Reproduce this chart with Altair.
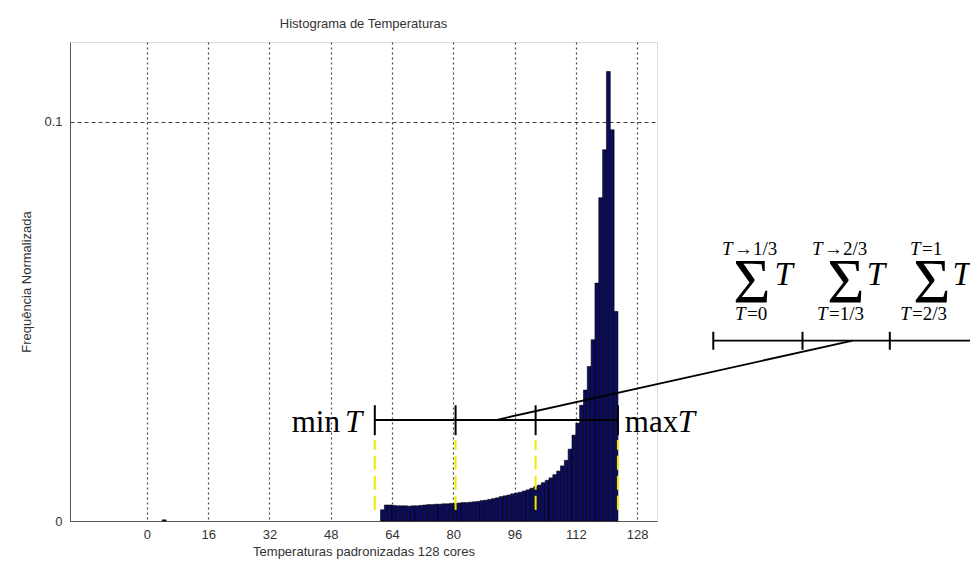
import altair as alt
import pandas as pd

# ---- histogram data (bin start, normalized frequency) ----
bins = [4] + list(range(61, 123))
freqs = [0.0003,
         0.0028, 0.0040, 0.0040, 0.0039, 0.0038, 0.0038, 0.0038, 0.0037, 0.0038, 0.0038,
         0.0039, 0.0040, 0.0041, 0.0041, 0.0042, 0.0042, 0.0043, 0.0043, 0.0044, 0.0044,
         0.0045, 0.0046, 0.0046, 0.0047, 0.0048, 0.0049, 0.0051, 0.0052, 0.0054, 0.0056,
         0.0058, 0.0061, 0.0063, 0.0065, 0.0068, 0.0070, 0.0072, 0.0075, 0.0078, 0.0082,
         0.0086, 0.0090, 0.0096, 0.0102, 0.0108, 0.0116, 0.0125, 0.0138, 0.0152, 0.0180,
         0.0215, 0.0245, 0.0290, 0.0328, 0.0387, 0.0454, 0.0596, 0.0810, 0.0930, 0.1126,
         0.0980, 0.0525]

x_ticks = [0, 16, 32, 48, 64, 80, 96, 112, 128]
y_ticks = [0, 0.1]

# ---- annotation geometry (data units) ----
seg_x = [59.5, 80.6, 101.5, 123.0]      # min T .. max T split points
seg_y = 0.0253
seg_tick_y = [0.0215, 0.0290]
yellow_y = [0.0028, 0.0203]
slant_x = [91.1, 184.3]
slant_y = [0.0253, 0.0452]
scale_x = [147.9, 171.2, 194.0]
scale_end = 215.0
scale_y = 0.0452
scale_tick_y = [0.0429, 0.0474]

sum_sigma_x = [158.0, 182.5, 205.0]
sum_T_x = [163.9, 188.0, 210.4]
sup_T_x = [150.2, 173.7, 199.3]
sup_rest_x = [153.3, 176.8, 202.4]
sup_rest = ["→1/3", "→2/3", "=1"]
sub_T_x = [153.6, 175.0, 196.7]
sub_rest_x = [156.7, 178.1, 199.8]
sub_rest = ["=0", "=1/3", "=2/3"]

XD = [-20.1, 133.2]
YD = [0, 0.12]
FONT = "Liberation Sans"
SERIF = "Liberation Serif"

hist = pd.DataFrame({"start": bins, "end": [b + 1 for b in bins], "freq": freqs,
                     "zero": [0.0] * len(bins)})

xs = alt.Scale(domain=XD, nice=False, zero=False)
ys = alt.Scale(domain=YD, nice=False)

bars = alt.Chart(hist).mark_rect(color="#0c0c5e", stroke="#000000", strokeWidth=0.6).encode(
    x=alt.X("start:Q", scale=xs,
            axis=alt.Axis(values=x_ticks, grid=True, gridDash=[2, 3], gridColor="#444444",
                          gridWidth=1.2, ticks=False, labelFont=FONT, labelFontSize=13,
                          labelColor="#333333", labelPadding=7, domainColor="#555555",
                          title="Temperaturas padronizadas 128 cores", titleFont=FONT,
                          titleFontSize=13, titleFontWeight="normal", titleColor="#333333",
                          titlePadding=4)),
    x2="end:Q",
    y=alt.Y("freq:Q", scale=ys,
            axis=alt.Axis(values=y_ticks, format="~g", grid=True, gridDash=[4, 3],
                          gridColor="#444444", gridWidth=1.2, ticks=False, labelFont=FONT,
                          labelFontSize=13, labelColor="#333333", labelPadding=8,
                          domainColor="#555555", title="Frequência Normalizada",
                          titleFont=FONT, titleFontSize=13, titleFontWeight="normal",
                          titleColor="#333333", titlePadding=10)),
    y2="zero:Q",
)


def rule(df, width=1.8, **kw):
    enc = {"x": alt.X("x:Q", scale=xs), "y": alt.Y("y:Q", scale=ys)}
    if "x2" in df:
        enc["x2"] = "x2:Q"
    if "y2" in df:
        enc["y2"] = "y2:Q"
    return alt.Chart(df).mark_rule(strokeWidth=width, **kw).encode(**enc)


seg = rule(pd.DataFrame({"x": [seg_x[0]], "x2": [seg_x[-1]], "y": [seg_y]}), color="black")
ticks = rule(pd.DataFrame({"x": seg_x, "y": [seg_tick_y[0]] * 4, "y2": [seg_tick_y[1]] * 4}),
             width=2, color="black")
yellow = rule(pd.DataFrame({"x": seg_x, "y": [yellow_y[0]] * 4, "y2": [yellow_y[1]] * 4}),
              width=2, color="#f2ea00", strokeDash=[14, 6])
slant = rule(pd.DataFrame({"x": [slant_x[0]], "x2": [slant_x[1]],
                           "y": [slant_y[0]], "y2": [slant_y[1]]}), color="black")
sc_line = rule(pd.DataFrame({"x": [scale_x[0]], "x2": [scale_end], "y": [scale_y]}), color="black")
sc_ticks = rule(pd.DataFrame({"x": scale_x, "y": [scale_tick_y[0]] * 3,
                              "y2": [scale_tick_y[1]] * 3}), width=2, color="black")


def text(xv, yv, tv, size, align="left", italic=False):
    df = pd.DataFrame({"x": xv, "y": yv, "t": tv})
    kw = dict(font=SERIF, fontSize=size, align=align, baseline="alphabetic", color="black")
    if italic:
        kw["fontStyle"] = "italic"
    return alt.Chart(df).mark_text(**kw).encode(
        x=alt.X("x:Q", scale=xs), y=alt.Y("y:Q", scale=ys), text="t:N")


mm_min = text([50.4], [0.0223], ["min"], 31, align="right")
mm_max = text([124.8], [0.0223], ["max"], 31)
mm_T = text([51.7, 138.6], [0.0223, 0.0223], ["T", "T"], 31, italic=True)

sig = text(sum_sigma_x, [0.0546] * 3, ["Σ"] * 3, 64, align="center")
sT = text(sum_T_x, [0.0591] * 3, ["T"] * 3, 33, italic=True)
supT = text(sup_T_x, [0.0667] * 3, ["T"] * 3, 19, italic=True)
supR = text(sup_rest_x, [0.0667] * 3, sup_rest, 19)
subT = text(sub_T_x, [0.0504] * 3, ["T"] * 3, 19, italic=True)
subR = text(sub_rest_x, [0.0504] * 3, sub_rest, 19)

chart = alt.layer(bars, yellow, seg, ticks, slant, sc_line, sc_ticks,
                  mm_min, mm_max, mm_T, sig, sT, supT, supR, subT, subR).properties(
    width=587, height=479,
    autosize=alt.AutoSizeParams(type="none"),
    padding={"left": 70, "top": 42, "right": 313, "bottom": 48},
    title=alt.TitleParams("Histograma de Temperaturas", font=FONT, fontSize=13,
                          fontWeight="normal", color="#333333", offset=11),
).configure_view(stroke="#555555", strokeWidth=1.2).configure(background="white")

chart.save("out.html", embed_options={"renderer": "svg", "actions": False})
